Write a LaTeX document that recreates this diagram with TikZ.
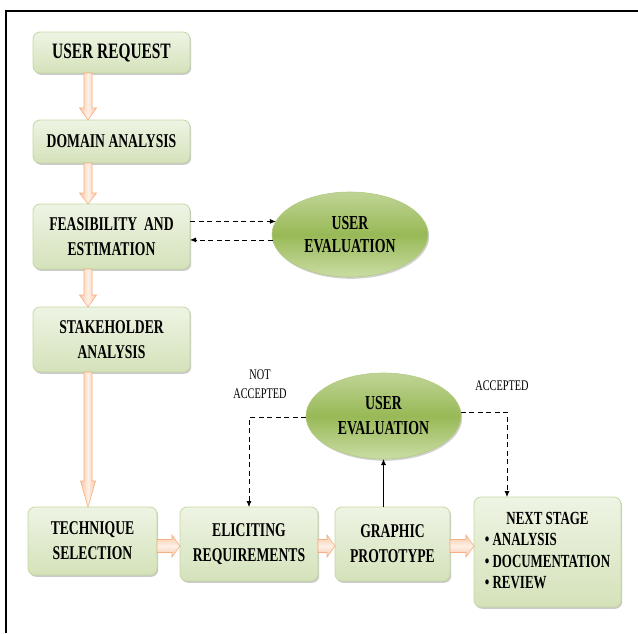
\documentclass[tikz,border=0pt]{standalone}
\usepackage{fontspec}
\setmainfont{Liberation Serif}[FakeStretch=0.7]
\usetikzlibrary{shapes.geometric,shadows,calc,arrows.meta}
\definecolor{boxtop}{RGB}{238,244,228}
\definecolor{boxbot}{RGB}{212,226,186}
\definecolor{boxline}{RGB}{198,216,160}
\definecolor{elltop}{RGB}{192,212,150}
\definecolor{ellmid}{RGB}{152,185,86}
\definecolor{ellbot}{RGB}{202,220,164}
\definecolor{ellline}{RGB}{178,202,128}
\definecolor{arrowline}{RGB}{243,176,130}
\definecolor{arrowedge}{RGB}{248,200,168}
\definecolor{arrowmid}{RGB}{254,240,230}
\newcommand\vblk[4]{%
  \path[vblkstyle] let \p1=(#1.south), \p2=(#2.north), \p3=(vx) in
  (\x3-4pt,\y1) -- (\x3-4pt,\y2+#3) -- (\x3-#4,\y2+#3) -- (\x3,\y2)
  -- (\x3+#4,\y2+#3) -- (\x3+4pt,\y2+#3) -- (\x3+4pt,\y1) -- cycle;}
\newcommand\hblk[2]{%
  \path[hblkstyle] let \p1=(#1.east), \p2=(#2.west), \p3=(hy) in
  (\x1,\y3+6.5pt) -- (\x2-8pt,\y3+6.5pt) -- (\x2-8pt,\y3+11pt) -- (\x2,\y3)
  -- (\x2-8pt,\y3-11pt) -- (\x2-8pt,\y3-6.5pt) -- (\x1,\y3-6.5pt) -- cycle;}
\begin{document}
\begin{tikzpicture}[x=1pt,y=-1pt,
  box/.style={rectangle, rounded corners=7pt, draw=boxline, line width=0.8pt,
    top color=boxtop, bottom color=boxbot,
    drop shadow={shadow xshift=1.2pt, shadow yshift=-1.8pt, opacity=0.35, fill=black!60},
    inner sep=0pt, outer sep=0pt, align=center, text=black,
    font=\bfseries\fontsize{19.5}{25}\selectfont},
  evalell/.style={ellipse, draw=ellline, line width=0.6pt,
    top color=elltop, bottom color=ellbot, middle color=ellmid,
    drop shadow={shadow xshift=1.2pt, shadow yshift=-1.8pt, opacity=0.3, fill=black!60},
    inner sep=0pt, outer sep=0pt, align=center, text=black},
  lbl/.style={inner sep=0pt, align=center, font=\fontsize{14.7}{19}\selectfont},
  dlink/.style={draw=black, line width=0.8pt, dash pattern=on 5pt off 3.5pt,
    -{Latex[length=6pt,width=5pt]}},
  slink/.style={draw=black, line width=0.8pt, -{Latex[length=6pt,width=5pt]}},
  vblkstyle/.style={draw=arrowline, line width=0.6pt, left color=arrowedge,
    right color=arrowedge, middle color=arrowmid},
  hblkstyle/.style={draw=arrowline, line width=0.6pt, top color=arrowedge,
    bottom color=arrowedge, middle color=arrowmid}]
\useasboundingbox (0,0) rectangle (638,633);
\draw[line width=1.6pt] (6,633) -- (6,11) -- (638,11);

\coordinate (vx) at (88,0);
\coordinate (hy) at (0,546);

\node[box, minimum width=157pt, minimum height=41pt,
  font=\bfseries\fontsize{22}{25}\selectfont] (ur) at (111.5,52.5) {USER REQUEST};
\node[box, minimum width=157pt, minimum height=43pt] (da) at (111.5,141.5) {DOMAIN ANALYSIS};
\node[box, minimum width=157pt, minimum height=65pt] (fe) at (111.5,236.5) {FEASIBILITY\ \ AND\\ESTIMATION};
\node[box, minimum width=157pt, minimum height=65pt] (sa) at (111.5,339.5) {STAKEHOLDER\\ANALYSIS};
\node[box, minimum width=129pt, minimum height=68pt] (ts) at (92.5,541) {TECHNIQUE\\SELECTION};
\node[box, minimum width=138pt, minimum height=74pt] (er) at (249,544) {ELICITING\\REQUIREMENTS};
\node[box, minimum width=115pt, minimum height=74pt] (gp) at (392.5,544) {GRAPHIC\\PROTOTYPE};
\node[box, minimum width=147pt, minimum height=110pt] (ns) at (547.5,552)
  {\fontsize{18.5}{21.5}\selectfont\begin{tabular}{@{}l@{}}
   \multicolumn{1}{@{}c@{}}{NEXT STAGE}\\
   \textbullet\ ANALYSIS\\
   \textbullet\ DOCUMENTATION\\
   \textbullet\ REVIEW\end{tabular}};

\node[evalell, minimum width=156pt, minimum height=85pt,
  font=\bfseries\fontsize{19.8}{23}\selectfont] (ue1) at (350,234.5) {USER\\EVALUATION};
\node[evalell, minimum width=155pt, minimum height=86pt,
  font=\bfseries\fontsize{19.8}{25}\selectfont] (ue2) at (383.5,416) {USER\\EVALUATION};

\node[lbl] (na) at (260,384.5) {NOT\\ACCEPTED};
\node[lbl] (ac) at (502,386) {ACCEPTED};

\vblk{ur}{da}{12pt}{8.5pt}
\vblk{da}{fe}{11pt}{8.5pt}
\vblk{fe}{sa}{12pt}{8.5pt}
\vblk{sa}{ts}{26pt}{7.5pt}
\hblk{ts}{er}
\hblk{er}{gp}
\hblk{gp}{ns}

\draw[dlink] (fe.east |- ue1.170) -- (ue1.170);
\draw[dlink] (ue1.184) -- (fe.east |- ue1.184);
\draw[dlink] (ue2.181) -| (er.north);
\draw[dlink] (ue2.3) -| ([xshift=-40.5pt]ns.north);
\draw[slink] (ue2.south |- gp.north) -- (ue2.south);
\end{tikzpicture}
\end{document}
